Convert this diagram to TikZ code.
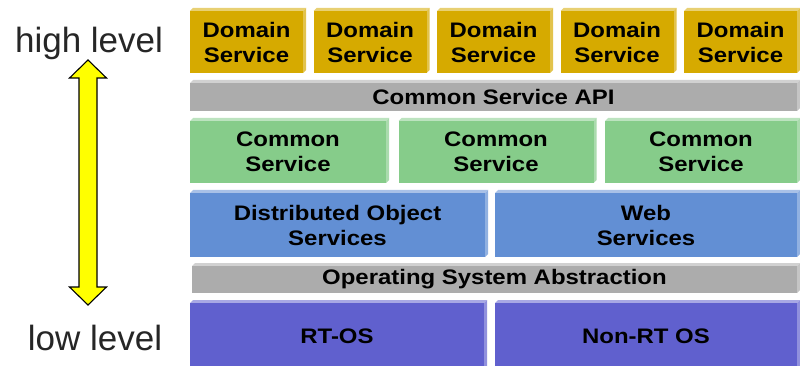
\documentclass[tikz,border=0pt]{standalone}
\usepackage{fontspec}
\setmainfont{Liberation Sans}
\newfontfamily\boxfont[FakeStretch=1.14]{Liberation Sans}
\definecolor{gold}{RGB}{214,170,0}
\definecolor{apigray}{RGB}{172,172,172}
\definecolor{cgreen}{RGB}{134,204,138}
\definecolor{cblue}{RGB}{98,143,212}
\definecolor{cpurple}{RGB}{96,96,206}
\definecolor{arrowyellow}{RGB}{255,255,0}
\newcommand\lbox[7]{%
  \path[fill=#6!55!white] (#2,#3+3) -- (#2+3,#3) -- (#2+#4,#3) -- (#2+#4-3,#3+3) -- cycle;
  \path[fill=#6!70!white] (#2+#4-3,#3+3) -- (#2+#4,#3) -- (#2+#4,#3+#5-3) -- (#2+#4-3,#3+#5) -- cycle;
  \node[lay, fill=#6, minimum width=#4-3, minimum height=#5-3, anchor=north west] (#1) at (#2,#3+3) {#7};
}
\begin{document}
\begin{tikzpicture}[x=1pt,y=-1pt,
  lay/.style={inner sep=0pt, outer sep=0pt, align=center, text=black,
    font=\boxfont\bfseries\fontsize{21}{25}\selectfont},
  lvl/.style={font=\fontsize{35}{40}\selectfont, text=black!85, anchor=base, inner sep=0pt}]
\useasboundingbox[fill=white] (0,0) rectangle (800,366);
% domain services
\lbox{d1}{190}{8}{116}{65}{gold}{Domain\\Service}
\lbox{d2}{313.5}{8}{116}{65}{gold}{Domain\\Service}
\lbox{d3}{437}{8}{116}{65}{gold}{Domain\\Service}
\lbox{d4}{560.5}{8}{116}{65}{gold}{Domain\\Service}
\lbox{d5}{684}{8}{116}{65}{gold}{Domain\\Service}
% common service api
\lbox{api}{190}{80}{610}{31}{apigray}{Common Service API}
% common services
\lbox{c1}{190}{118}{199}{65}{cgreen}{Common\\Service}
\lbox{c2}{398.5}{118}{198}{65}{cgreen}{Common\\Service}
\lbox{c3}{605}{118}{195}{65}{cgreen}{Common\\Service}
% middleware
\lbox{dos}{190}{190}{298}{67}{cblue}{Distributed Object\\Services}
\lbox{web}{495}{190}{305}{67}{cblue}{Web\\Services}
% os abstraction
\lbox{osa}{192}{263}{608}{30}{apigray}{Operating System Abstraction}
% os
\lbox{rtos}{190}{300}{297}{70}{cpurple}{RT-OS}
\lbox{nrtos}{495}{300}{305}{70}{cpurple}{Non-RT OS}
% level labels
\node[lvl] (hi) at (89,53) {high level};
\node[lvl] (lo) at (95,350) {low level};
% double arrow
\filldraw[fill=arrowyellow, draw=black, line width=1.1pt, line join=miter]
  (88,60) -- (106.5,78) -- (97,78) -- (97,287) -- (106.5,287) -- (88,305)
  -- (69.5,287) -- (79,287) -- (79,78) -- (69.5,78) -- cycle;
\end{tikzpicture}
\end{document}
